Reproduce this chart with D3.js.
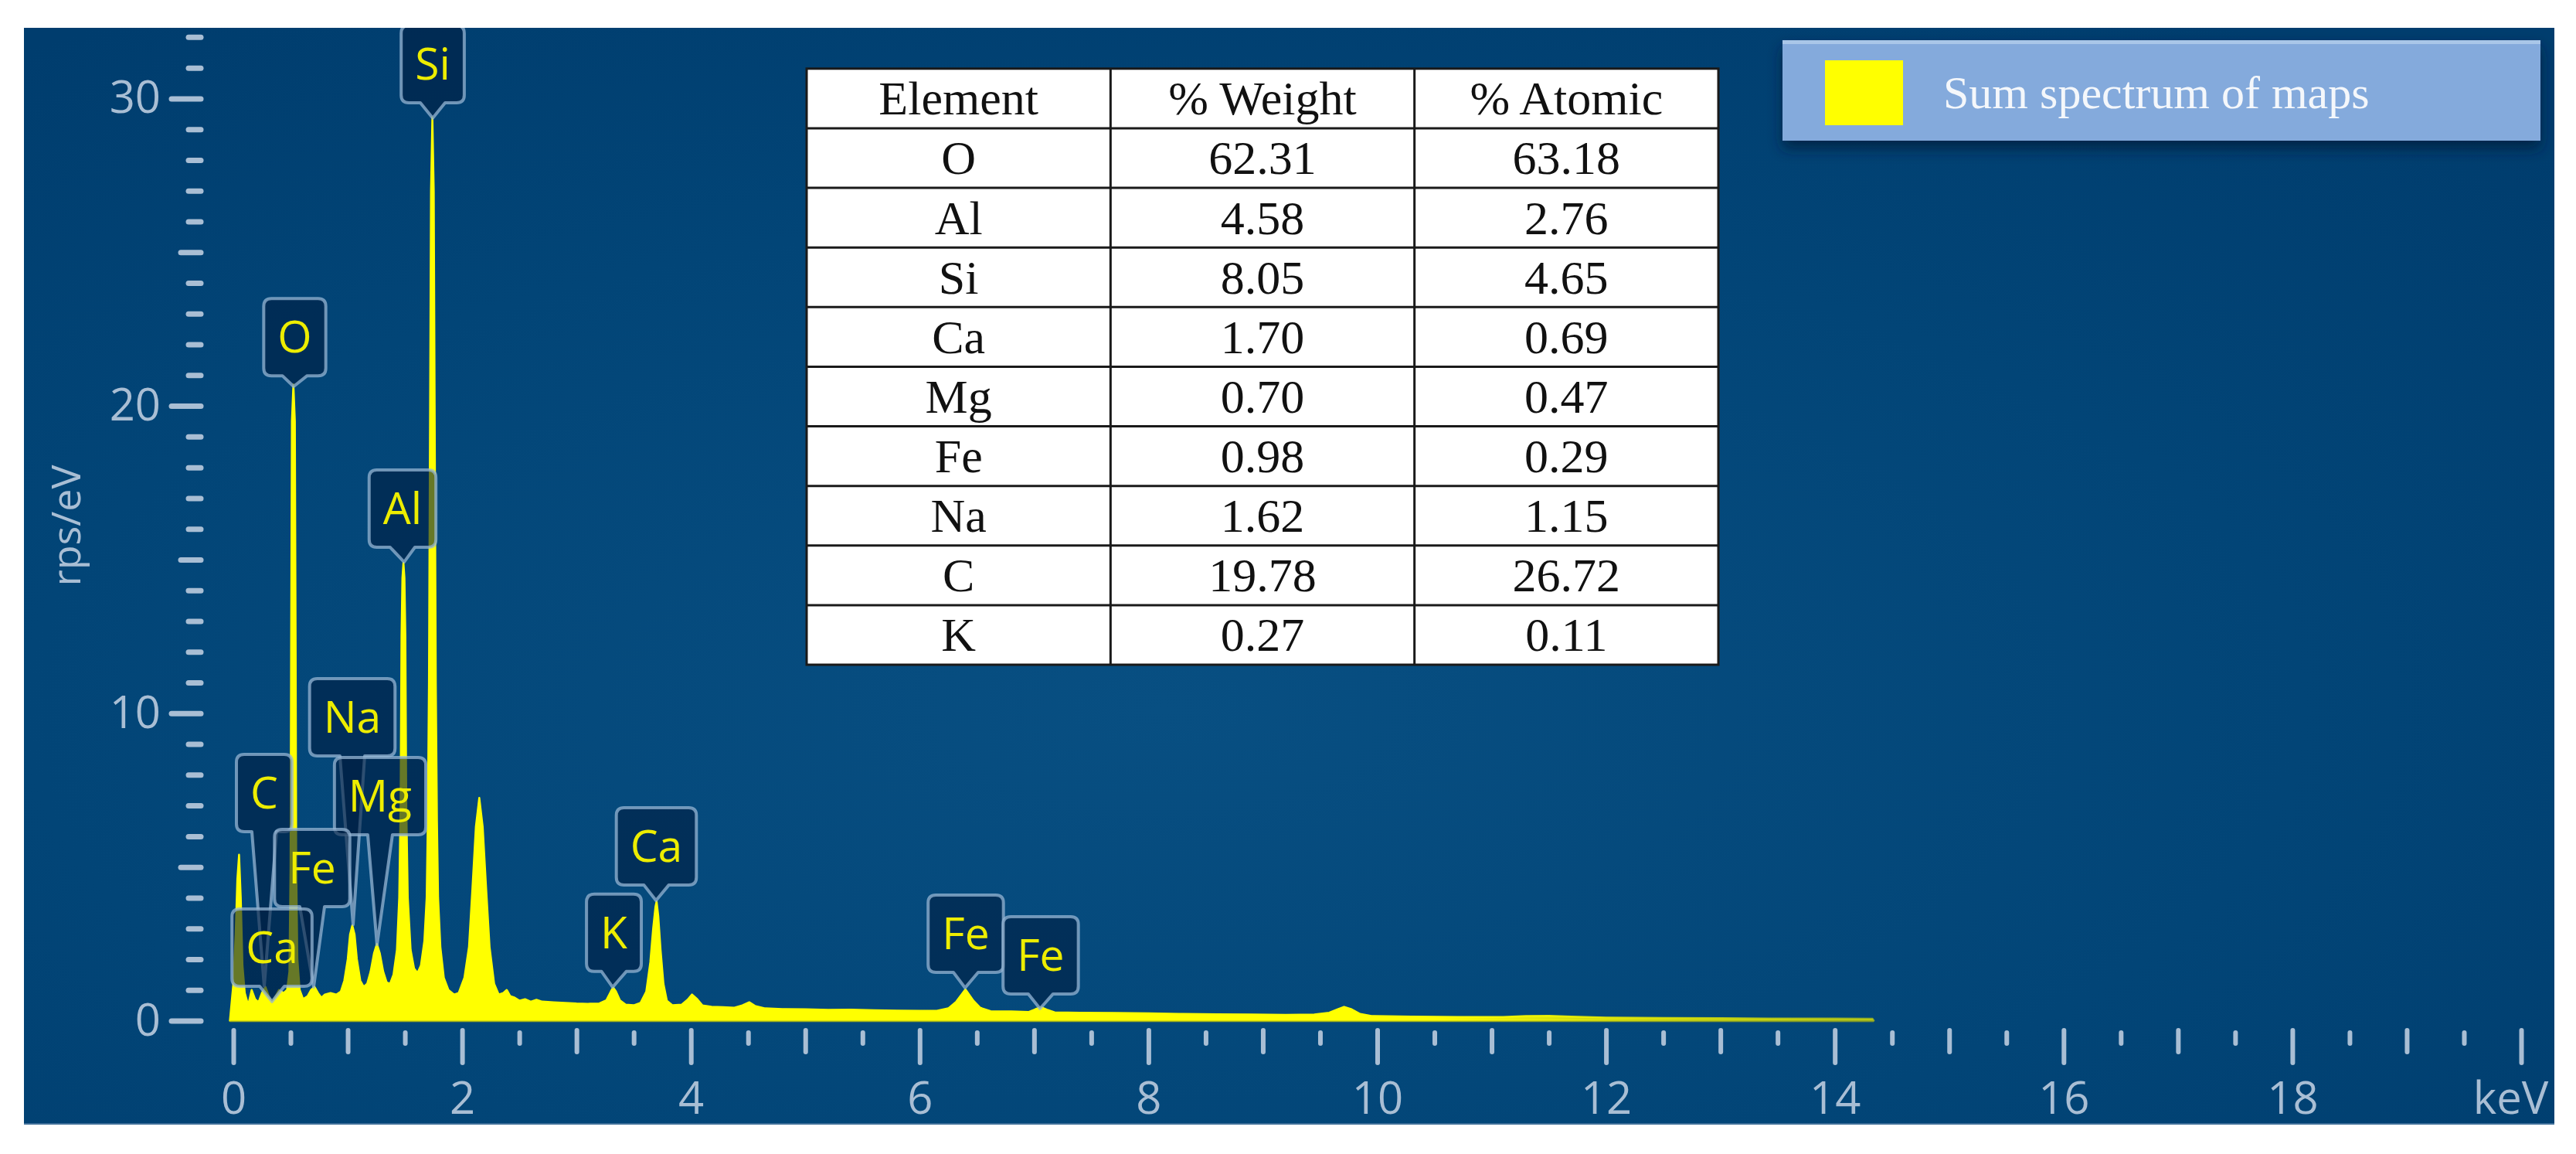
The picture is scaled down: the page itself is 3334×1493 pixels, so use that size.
<!DOCTYPE html>
<html><head><meta charset="utf-8">
<script src="https://cdn.jsdelivr.net/npm/d3@7"></script>
<style>html,body{margin:0;padding:0;background:#fff;} svg{display:block}</style>
</head><body>
<svg id="chart" width="3334" height="1493"></svg>
<script>
// ---------------- data ----------------
const energyKeV = [-0.03,0.00,0.02,0.035,0.05,0.065,0.08,0.10,0.13,0.16,0.19,0.22,0.25,0.28,0.31,0.34,0.37,0.40,0.44,0.47,
  0.49,0.50,0.505,0.512,0.525,0.538,0.545,0.55,0.56,0.58,0.61,0.65,0.68,0.71,0.74,0.77,0.80,0.85,0.90,0.94,
  0.97,1.00,1.02,1.04,1.06,1.08,1.11,1.14,1.17,1.20,1.23,1.255,1.28,1.31,1.34,1.37,1.40,1.43,1.45,1.462,
  1.47,1.478,1.487,1.496,1.504,1.512,1.525,1.55,1.58,1.61,1.64,1.67,1.69,1.70,1.71,1.72,1.728,1.74,1.752,1.76,
  1.77,1.78,1.79,1.81,1.84,1.88,1.93,1.97,2.02,2.06,2.09,2.12,2.15,2.18,2.21,2.24,2.28,2.32,2.36,2.39,
  2.42,2.46,2.50,2.55,2.60,2.65,2.70,2.80,2.90,3.00,3.10,3.20,3.26,3.30,3.32,3.345,3.38,3.43,3.50,3.56,
  3.61,3.645,3.67,3.69,3.70,3.715,3.735,3.76,3.79,3.84,3.92,3.97,4.01,4.05,4.10,4.18,4.28,4.38,4.45,4.51,
  4.56,4.65,4.80,5.00,5.20,5.40,5.60,5.80,6.00,6.15,6.25,6.32,6.40,6.47,6.53,6.62,6.80,6.95,7.01,7.06,
  7.11,7.18,7.40,7.70,8.00,8.30,8.60,8.90,9.20,9.45,9.58,9.66,9.71,9.77,9.85,9.95,10.3,10.7,11.1,11.3,
  11.5,11.7,12.0,12.5,13.0,13.5,14.0,14.33,14.34];
const countsRps = [0,1.2,2.8,4.6,5.4,4.0,1.8,0.9,0.5,1.0,0.7,0.6,0.9,1.1,0.8,0.6,0.8,1.0,0.9,1.0,
  1.6,5.0,12.0,19.5,20.7,19.5,12.0,5.0,2.0,1.0,0.7,0.8,1.0,1.1,0.9,0.75,0.85,0.9,0.85,0.95,
  1.3,2.0,2.8,3.1,2.8,2.0,1.3,1.1,1.2,1.6,2.2,2.5,2.2,1.6,1.25,1.2,1.5,2.3,4.0,7.0,
  12.5,14.4,14.9,14.4,12.5,7.0,4.0,2.3,1.7,1.55,1.8,2.6,4.0,6.5,11.0,20.0,27.0,29.4,27.0,20.0,
  11.0,6.5,4.0,2.4,1.4,1.0,0.85,0.9,1.4,2.4,4.3,6.3,7.25,6.3,4.3,2.4,1.2,0.85,0.9,1.0,
  0.8,0.75,0.65,0.7,0.62,0.68,0.62,0.6,0.58,0.56,0.55,0.56,0.66,0.95,1.08,0.95,0.66,0.52,0.5,0.58,
  0.95,1.9,3.0,3.7,3.88,3.4,2.3,1.2,0.65,0.5,0.52,0.68,0.85,0.72,0.5,0.45,0.44,0.42,0.5,0.6,
  0.48,0.4,0.38,0.37,0.35,0.36,0.34,0.33,0.32,0.32,0.4,0.62,1.02,0.65,0.42,0.31,0.3,0.28,0.37,0.44,
  0.36,0.27,0.26,0.25,0.24,0.22,0.21,0.2,0.19,0.2,0.26,0.38,0.45,0.38,0.22,0.15,0.13,0.12,0.12,0.15,
  0.16,0.13,0.1,0.09,0.08,0.07,0.07,0.06,0];

const xTickValues = [0,2,4,6,8,10,12,14,16,18,20];
const xTickLabels = ["0","2","4","6","8","10","12","14","16","18","keV"];
const xMidTicks = [1,3,5,7,9,11,13,15,17,19];
const xMinorTicks = [0.5,1.5,2.5,3.5,4.5,5.5,6.5,7.5,8.5,9.5,10.5,11.5,12.5,13.5,14.5,15.5,16.5,17.5,18.5,19.5];
const yTickValues = [0,10,20,30];
const yTickLabels = ["0","10","20","30"];
const yMidTicks = [5,15,25];
const yMinorTicks = [1,2,3,4,6,7,8,9,11,12,13,14,16,17,18,19,21,22,23,24,26,27,28,29,31,32];
const yAxisTitle = "rps/eV";

// peak markers: element, peak energy (keV), peak height (rps/eV)
const peakElements = ["Si","O","Al","Na","C","Mg","Fe","Ca","K","Ca","Fe","Fe"];
const peakEnergy   = [1.743,0.527,1.493,1.047,0.270,1.256,0.702,0.338,3.316,3.695,6.397,7.052];
const peakHeight   = [29.36,20.63,14.92,3.13,1.12,2.47,1.09,0.62,1.09,3.91,1.07,0.39];
// marker box anchor (data units): box centre energy, box bottom level
const boxEnergy = [1.743,0.537,1.479,1.040,0.270,1.283,0.689,0.338,3.327,3.698,6.403,7.058];
const boxLevel  = [29.86,20.98,15.40,8.61,6.15,6.05,3.71,1.12,1.60,4.41,1.57,0.87];

const tableHeader   = ["Element","% Weight","% Atomic"];
const tableElements = ["O","Al","Si","Ca","Mg","Fe","Na","C","K"];
const tableWeight   = ["62.31","4.58","8.05","1.70","0.70","0.98","1.62","19.78","0.27"];
const tableAtomic   = ["63.18","2.76","4.65","0.69","0.47","0.29","1.15","26.72","0.11"];
const legendLabel = "Sum spectrum of maps";

// ---------------- layout ----------------
const svg = d3.select("#chart");
const panel = {x0:31, y0:36, x1:3306, y1:1455};
const x = d3.scaleLinear().domain([0,20]).range([302,3263]);
const y = d3.scaleLinear().domain([0,30]).range([1320.5,127.4]);
const tickCol = "#a9bed4";
const sans = "'Open Sans','Noto Sans',sans-serif";
const serif = "'Liberation Serif','Times New Roman',serif";

const defs = svg.append("defs");
const bg = defs.append("radialGradient").attr("id","bg").attr("cx","45%").attr("cy","62%").attr("r","75%");
bg.append("stop").attr("offset","0%").attr("stop-color","#084f82");
bg.append("stop").attr("offset","60%").attr("stop-color","#024577");
bg.append("stop").attr("offset","100%").attr("stop-color","#003d6e");
defs.append("clipPath").attr("id","clipP").append("rect")
  .attr("x",panel.x0).attr("y",panel.y0).attr("width",panel.x1-panel.x0).attr("height",panel.y1-panel.y0);
const fade = defs.append("linearGradient").attr("id","fade").attr("gradientUnits","userSpaceOnUse")
  .attr("x1",x(10.5)).attr("x2",x(14.4)).attr("y1",0).attr("y2",0);
fade.append("stop").attr("offset","0%").attr("stop-color","#ffff00").attr("stop-opacity",1);
fade.append("stop").attr("offset","100%").attr("stop-color","#d8e000").attr("stop-opacity",0.6);
const sh = defs.append("filter").attr("id","shadow").attr("x","-10%").attr("y","-30%").attr("width","120%").attr("height","170%");
sh.append("feGaussianBlur").attr("in","SourceAlpha").attr("stdDeviation",9);
sh.append("feOffset").attr("dy",10).attr("result","b");
sh.append("feFlood").attr("flood-color","#001f3d").attr("flood-opacity",0.8);
sh.append("feComposite").attr("in2","b").attr("operator","in");
const mg = sh.append("feMerge"); mg.append("feMergeNode"); mg.append("feMergeNode").attr("in","SourceGraphic");

svg.append("rect").attr("x",panel.x0).attr("y",panel.y0).attr("width",panel.x1-panel.x0).attr("height",panel.y1-panel.y0)
  .attr("fill","url(#bg)");
svg.append("line").attr("x1",panel.x0).attr("x2",panel.x1).attr("y1",panel.y1-1).attr("y2",panel.y1-1)
  .attr("stroke","#3f6f99").attr("stroke-width",2);

const plot = svg.append("g").attr("clip-path","url(#clipP)");

// spectrum
const pts = energyKeV.map((e,i)=>[e,countsRps[i]]);
const area = d3.area().x(d=>x(d[0])).y0(y(0)).y1(d=>y(d[1]));
plot.append("path").datum(pts).attr("d",area)
  .attr("fill","url(#fade)").attr("stroke","url(#fade)").attr("stroke-width",2.5).attr("stroke-linejoin","round");
plot.append("line").attr("x1",x(-0.03)).attr("x2",x(14.34)).attr("y1",y(0)+1).attr("y2",y(0)+1)
  .attr("stroke","#8a9a20").attr("stroke-width",2).attr("opacity",0.6);

// peak markers
const boxH = 100, hw = 16, rr = 10;
peakElements.forEach((el,i)=>{
  const g = plot.append("g");
  const t = g.append("text").text(el).attr("font-family",sans).attr("font-size",57)
    .attr("fill","#eded00").attr("text-anchor","middle");
  const tw = t.node().getComputedTextLength();
  const w = tw + 36;
  const cx = x(boxEnergy[i]);
  const b = y(boxLevel[i]);
  const top = b - boxH;
  const tx = x(peakEnergy[i]), ty = y(peakHeight[i]);
  const x0 = cx - w/2, x1 = cx + w/2;
  const p = `M${x0+rr},${top}H${x1-rr}Q${x1},${top} ${x1},${top+rr}V${b-rr}Q${x1},${b} ${x1-rr},${b}`+
            `H${cx+hw}L${tx},${ty}L${cx-hw},${b}H${x0+rr}Q${x0},${b} ${x0},${b-rr}V${top+rr}Q${x0},${top} ${x0+rr},${top}Z`;
  g.insert("path","text").attr("d",p).attr("fill","rgba(0,30,65,0.6)")
    .attr("stroke","rgba(150,182,212,0.75)").attr("stroke-width",4).attr("stroke-linejoin","round");
  t.attr("x",cx).attr("y",top + boxH/2 + 20);
});

// axes
function styleAxis(g, sw){
  g.select(".domain").remove();
  g.selectAll("line").attr("stroke",tickCol).attr("stroke-width",sw).attr("stroke-linecap","round");
  g.selectAll("text").attr("fill",tickCol).attr("font-family",sans).attr("font-size",58);
}
const gxMaj = svg.append("g").attr("transform","translate(0,1333)")
  .call(d3.axisBottom(x).tickValues(xTickValues).tickSize(42).tickPadding(25).tickFormat((d,i)=>xTickLabels[i]));
styleAxis(gxMaj,6);
gxMaj.selectAll("text").filter(d=>d===20).attr("dx",-14);
const gxMid = svg.append("g").attr("transform","translate(0,1333)")
  .call(d3.axisBottom(x).tickValues(xMidTicks).tickSize(28).tickFormat(""));
styleAxis(gxMid,6);
const gxMin = svg.append("g").attr("transform","translate(0,1336)")
  .call(d3.axisBottom(x).tickValues(xMinorTicks).tickSize(14).tickFormat(""));
styleAxis(gxMin,6);

const gyMaj = svg.append("g").attr("transform","translate(260,0)")
  .call(d3.axisLeft(y).tickValues(yTickValues).tickSize(38).tickPadding(14).tickFormat((d,i)=>yTickLabels[i]));
styleAxis(gyMaj,7);
const gyMid = svg.append("g").attr("transform","translate(260,0)")
  .call(d3.axisLeft(y).tickValues(yMidTicks).tickSize(26).tickFormat(""));
styleAxis(gyMid,7);
const gyMin = svg.append("g").attr("transform","translate(260,0)")
  .call(d3.axisLeft(y).tickValues(yMinorTicks).tickSize(16).tickFormat(""));
styleAxis(gyMin,7);

svg.append("text").text(yAxisTitle).attr("transform","translate(104,680) rotate(-90)")
  .attr("text-anchor","middle").attr("font-family",sans).attr("font-size",52).attr("fill",tickCol);

// table
const tb = {x0:1044, x1:2224, y0:88.8, y1:860};
const colX = d3.scaleBand().domain(tableHeader).range([tb.x0,tb.x1]);
const rowY = d3.scaleBand().domain(d3.range(tableElements.length+1)).range([tb.y0,tb.y1]);
const tg = svg.append("g");
tg.append("rect").attr("x",tb.x0).attr("y",tb.y0).attr("width",tb.x1-tb.x0).attr("height",tb.y1-tb.y0)
  .attr("fill","#ffffff").attr("stroke","#1a1a1a").attr("stroke-width",3);
const rows = [tableHeader].concat(tableElements.map((e,i)=>[e,tableWeight[i],tableAtomic[i]]));
rowY.domain().slice(1).forEach(r=>{
  tg.append("line").attr("x1",tb.x0).attr("x2",tb.x1).attr("y1",rowY(r)).attr("y2",rowY(r))
    .attr("stroke","#1a1a1a").attr("stroke-width",3);
});
tableHeader.slice(1).forEach(c=>{
  tg.append("line").attr("x1",colX(c)).attr("x2",colX(c)).attr("y1",tb.y0).attr("y2",tb.y1)
    .attr("stroke","#1a1a1a").attr("stroke-width",3);
});
rows.forEach((row,r)=>{
  row.forEach((val,c)=>{
    tg.append("text").text(val).attr("x",colX(tableHeader[c])+colX.bandwidth()/2)
      .attr("y",rowY(r)+rowY.bandwidth()/2+21).attr("text-anchor","middle")
      .attr("font-family",serif).attr("font-size",62).attr("fill","#111");
  });
});

// legend
const lg = svg.append("g");
lg.append("rect").attr("x",2307).attr("y",52).attr("width",981).attr("height",130)
  .attr("fill","#84aadc").attr("filter","url(#shadow)");
lg.append("rect").attr("x",2307).attr("y",52).attr("width",981).attr("height",5).attr("fill","#a9c6e8");
lg.append("rect").attr("x",2362).attr("y",78).attr("width",101).attr("height",84).attr("fill","#ffff00");
lg.append("text").text(legendLabel).attr("x",2515).attr("y",140)
  .attr("font-family",serif).attr("font-size",60).attr("fill","#f4f7fb");
</script>
</body></html>
